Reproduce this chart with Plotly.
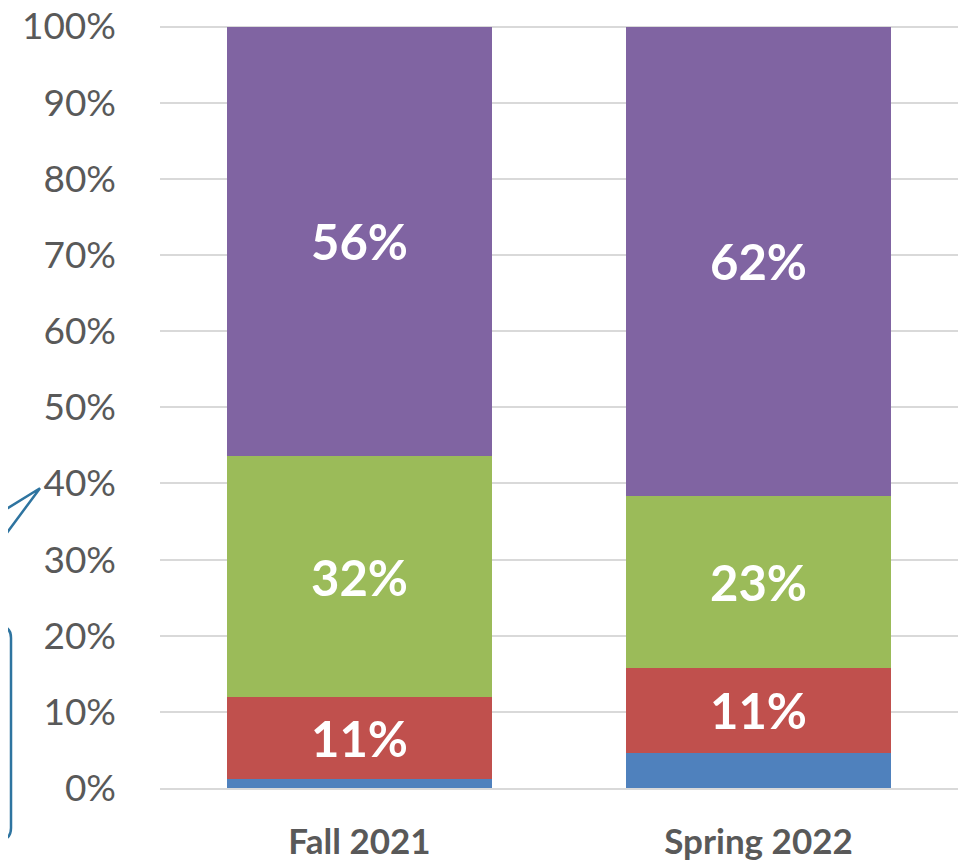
import plotly.graph_objects as go

categories = ["Fall 2021", "Spring 2022"]
blue_vals = [1.2, 4.6]
red_vals = [10.7, 11.2]
green_vals = [31.7, 22.6]
purple_vals = [56.4, 61.6]
red_labels = ["11%", "11%"]
green_labels = ["32%", "23%"]
purple_labels = ["56%", "62%"]
tick_vals = [0, 10, 20, 30, 40, 50, 60, 70, 80, 90, 100]
tick_text = [f"{v}%" for v in tick_vals]

label_font = dict(family="Lato, 'Open Sans', sans-serif", size=49, color="white")

fig = go.Figure()
fig.add_trace(go.Bar(x=categories, y=blue_vals, marker_color="#4F81BD",
                     marker_line_width=0, hoverinfo="skip"))
fig.add_trace(go.Bar(x=categories, y=red_vals, marker_color="#C0504D",
                     marker_line_width=0, text=red_labels, textposition="inside",
                     insidetextanchor="middle", textfont=label_font,
                     texttemplate="<b>%{text}</b>", hoverinfo="skip"))
fig.add_trace(go.Bar(x=categories, y=green_vals, marker_color="#9BBB59",
                     marker_line_width=0, text=green_labels, textposition="inside",
                     insidetextanchor="middle", textfont=label_font,
                     texttemplate="<b>%{text}</b>", hoverinfo="skip"))
fig.add_trace(go.Bar(x=categories, y=purple_vals, marker_color="#8064A2",
                     marker_line_width=0, text=purple_labels, textposition="inside",
                     insidetextanchor="middle", textfont=label_font,
                     texttemplate="<b>%{text}</b>", hoverinfo="skip"))

# callout decoration on the left (partially visible); window-pixel helpers
PLOT_H = 763.5
def px_x(p):
    return (p - 160) / 798.0

def px_y(p):
    return (788 - p) / PLOT_H

rx = 12 / 798.0
ry = 12 / PLOT_H
xl, xr = px_x(-60), px_x(11)
yt, yb = px_y(626), px_y(840)
rect_path = (f"M {xl},{yt} L {xr - rx},{yt} Q {xr},{yt} {xr},{yt - ry} "
             f"L {xr},{yb + ry} Q {xr},{yb} {xr - rx},{yb} L {xl},{yb}")
ptr_path = (f"M {px_x(-20)},{px_y(525)} L {px_x(40)},{px_y(488)} "
            f"L {px_x(-20)},{px_y(569)}")
line_style = dict(color="#2E74A0", width=2.5)
fig.add_shape(type="path", path=rect_path, xref="paper", yref="paper",
              line=line_style, layer="above")
fig.add_shape(type="path", path=ptr_path, xref="paper", yref="paper",
              line=line_style, layer="above")

fig.update_layout(
    barmode="stack",
    bargap=0.336,
    showlegend=False,
    width=966, height=857,
    margin=dict(l=152, r=16, t=16.5, b=77),
    plot_bgcolor="white",
    paper_bgcolor="white",
    uniformtext=dict(mode=False),
)
fig.update_yaxes(range=[0, 100.2], tickvals=tick_vals, ticktext=tick_text,
                 showgrid=True, gridcolor="#D9D9D9", gridwidth=1.5,
                 zeroline=False, showline=False, automargin=False,
                 ticklabeloverflow="allow",
                 tickfont=dict(family="Lato, 'Open Sans', sans-serif", size=37, color="#595959"),
                 ticklabelstandoff=43)
fig.update_xaxes(showline=True, linecolor="#D9D9D9", linewidth=1.5, automargin=False,
                 ticklabeloverflow="allow",
                 tickfont=dict(family="Lato, 'Open Sans', sans-serif", size=35, color="#595959"),
                 tickprefix="<b>", ticksuffix="</b>",
                 ticklabelstandoff=22)

fig.write_html("out.html")
